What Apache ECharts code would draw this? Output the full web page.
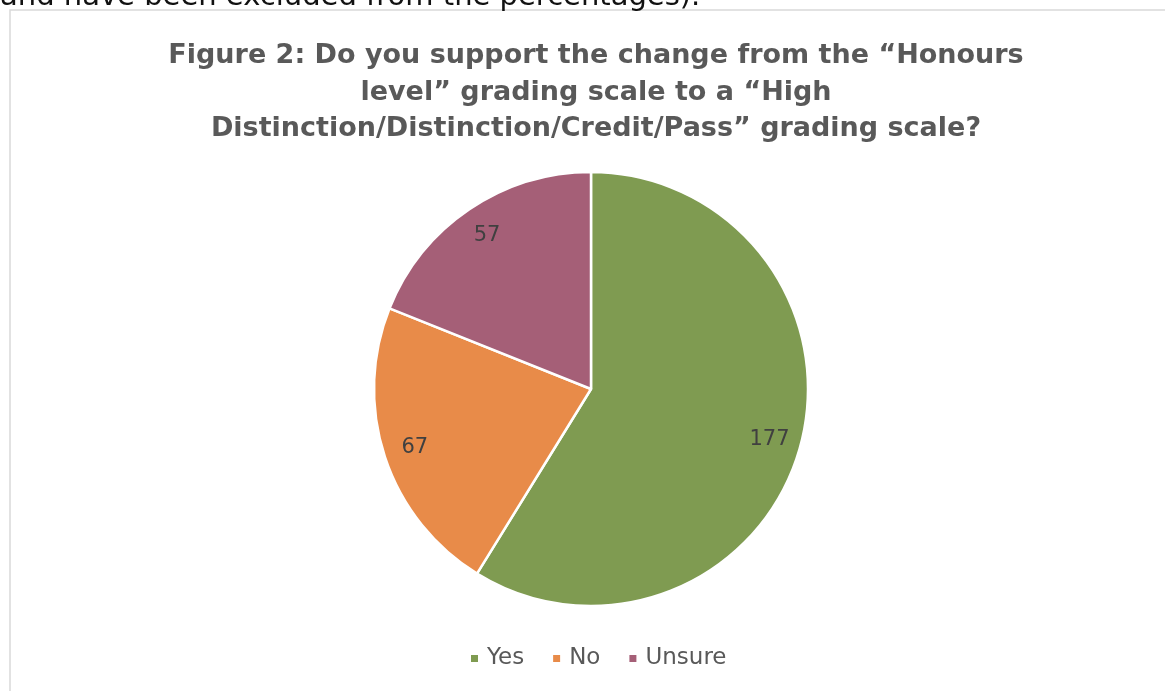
<!DOCTYPE html>
<html>
<head>
<meta charset="utf-8">
<script src="https://cdn.jsdelivr.net/npm/echarts@6/dist/echarts.min.js"></script>
<style>
  html, body { margin: 0; padding: 0; background: #fff; overflow: hidden; }
  #wrap { position: relative; width: 1165px; height: 691px; overflow: hidden; }
  #chart { position: absolute; left: 0; top: 0; width: 1165px; height: 691px; }
  #above {
    position: absolute; left: 0; top: -24px; white-space: nowrap;
    font: 29px "DejaVu Sans", sans-serif; line-height: 38px; color: #111;
  }
</style>
</head>
<body>
<div id="wrap">
  <div id="chart"></div>
  <div id="above">and have been excluded from the percentages).</div>
</div>
<script>
  // data
  var categories = ['Yes', 'No', 'Unsure'];
  var counts = [177, 67, 57];
  var colors = ['#7f9b51', '#e88b49', '#a55f77'];

  var titleText = 'Figure 2: Do you support the change from the \u201cHonours\nlevel\u201d grading scale to a \u201cHigh\nDistinction/Distinction/Credit/Pass\u201d grading scale?';

  var pieData = categories.map(function (name, i) {
    return { name: name, value: counts[i], itemStyle: { color: colors[i] } };
  });

  var chart = echarts.init(document.getElementById('chart'));
  chart.setOption({
    backgroundColor: '#fff',
    animation: false,
    title: {
      text: titleText,
      left: 591,
      textAlign: 'center',
      top: 33,
      textStyle: {
        fontFamily: 'DejaVu Sans',
        fontWeight: 'bold',
        fontSize: 27,
        lineHeight: 36.5,
        color: '#595959'
      }
    },
    legend: {
      bottom: 16,
      left: 464,
      itemWidth: 9,
      itemHeight: 9,
      itemGap: 27,
      icon: 'rect',
      data: categories,
      textStyle: { fontFamily: 'DejaVu Sans', fontSize: 23, color: '#595959', padding: [0, 0, 0, 3] }
    },
    graphic: [
      {
        type: 'rect',
        shape: { x: 10, y: 10, width: 1200, height: 720 },
        style: { fill: 'none', stroke: '#d9d9d9', lineWidth: 1.5 },
        silent: true
      }
    ],
    series: [
      {
        type: 'pie',
        center: [591, 389],
        radius: [0, 217],
        startAngle: 90,
        clockwise: true,
        data: pieData,
        label: { show: false },
        labelLine: { show: false },
        itemStyle: { borderColor: '#fff', borderWidth: 2.5 },
        emphasis: { disabled: true }
      },
      {
        // invisible ring only used to place the value labels near the rim
        type: 'pie',
        center: [591, 389],
        radius: [148, 217],
        startAngle: 90,
        clockwise: true,
        silent: true,
        data: pieData.map(function (d) {
          return { name: d.name, value: d.value, itemStyle: { color: 'rgba(0,0,0,0)' } };
        }),
        label: {
          show: true,
          position: 'inside',
          formatter: '{c}',
          fontFamily: 'DejaVu Sans',
          fontSize: 21,
          color: '#404040'
        },
        labelLine: { show: false },
        emphasis: { disabled: true }
      }
    ]
  });
</script>
</body>
</html>
